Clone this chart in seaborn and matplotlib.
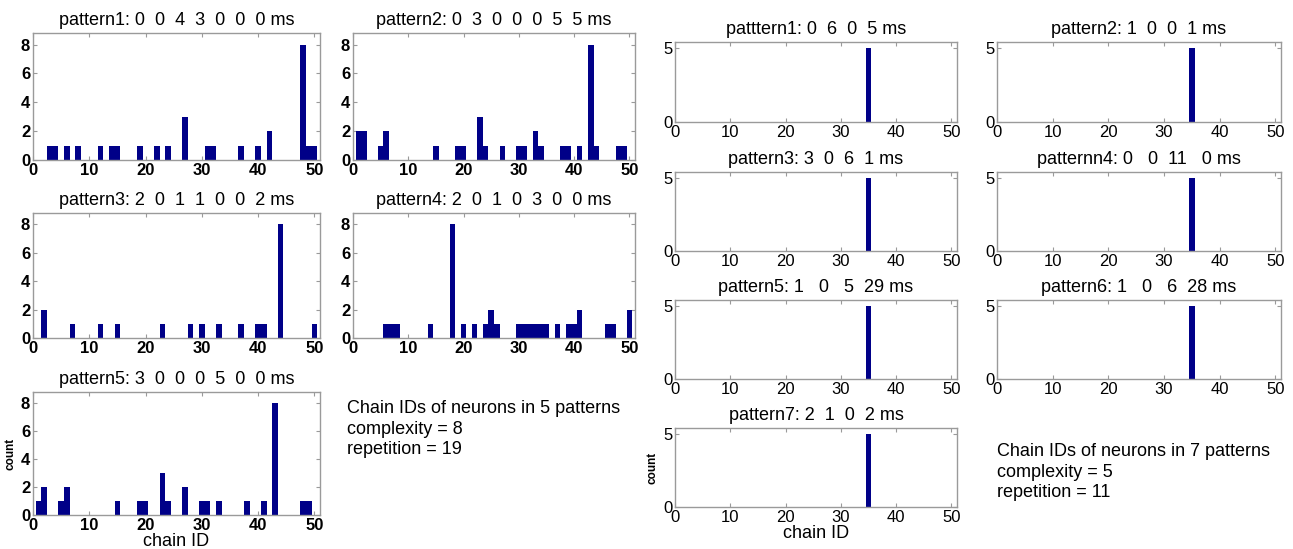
import numpy as np
import pandas as pd
import matplotlib
matplotlib.use("Agg")
import matplotlib.pyplot as plt
import seaborn as sns

# ---------------- data ----------------
left_titles = [
    "pattern1: 0  0  4  3  0  0  0 ms",
    "pattern2: 0  3  0  0  0  5  5 ms",
    "pattern3: 2  0  1  1  0  0  2 ms",
    "pattern4: 2  0  1  0  3  0  0 ms",
    "pattern5: 3  0  0  0  5  0  0 ms",
]
L1_ids = [3, 4, 6, 8, 12, 14, 15, 19, 22, 24, 27, 31, 32, 37, 40, 42, 48, 49, 50]
L1_counts = [1, 1, 1, 1, 1, 1, 1, 1, 1, 1, 3, 1, 1, 1, 1, 2, 8, 1, 1]
L2_ids = [1, 2, 5, 6, 15, 19, 20, 23, 24, 27, 30, 31, 33, 34, 38, 39, 41, 43, 44, 48, 49]
L2_counts = [2, 2, 1, 2, 1, 1, 1, 3, 1, 1, 1, 1, 2, 1, 1, 1, 1, 8, 1, 1, 1]
L3_ids = [2, 7, 12, 15, 23, 28, 30, 33, 37, 40, 41, 44, 50]
L3_counts = [2, 1, 1, 1, 1, 1, 1, 1, 1, 1, 1, 8, 1]
L4_ids = [6, 7, 8, 14, 18, 20, 22, 24, 25, 26, 30, 31, 32, 33, 34, 35, 37, 39, 40, 41, 46, 47, 50]
L4_counts = [1, 1, 1, 1, 8, 1, 1, 1, 2, 1, 1, 1, 1, 1, 1, 1, 1, 1, 1, 2, 1, 1, 2]
L5_ids = [1, 2, 5, 6, 15, 19, 20, 23, 24, 27, 30, 31, 33, 38, 41, 43, 48, 49]
L5_counts = [1, 2, 1, 2, 1, 1, 1, 3, 1, 2, 1, 1, 1, 1, 1, 8, 1, 1]
left_ids = [L1_ids, L2_ids, L3_ids, L4_ids, L5_ids]
left_counts = [L1_counts, L2_counts, L3_counts, L4_counts, L5_counts]

right_titles = [
    "patttern1: 0  6  0  5 ms",
    "pattern2: 1  0  0  1 ms",
    "pattern3: 3  0  6  1 ms",
    "patternn4: 0   0  11   0 ms",
    "pattern5: 1   0   5  29 ms",
    "pattern6: 1   0   6  28 ms",
    "pattern7: 2  1  0  2 ms",
]
right_ids = [35, 35, 35, 35, 35, 35, 35]
right_counts = [5, 5, 5, 5, 5, 5, 5]

left_note = "Chain IDs of neurons in 5 patterns\ncomplexity = 8\nrepetition = 19"
right_note = "Chain IDs of neurons in 7 patterns\ncomplexity = 5\nrepetition = 11"
x_ticks = [0, 10, 20, 30, 40, 50]
left_yticks = [0, 2, 4, 6, 8]
right_yticks = [0, 5]

# ---------------- style ----------------
sns.set_theme(style="white")
plt.rcParams['font.family'] = ['Liberation Sans', 'DejaVu Sans']
plt.rcParams['text.color'] = 'black'
plt.rcParams['axes.labelcolor'] = 'black'
plt.rcParams['xtick.color'] = 'black'
plt.rcParams['ytick.color'] = 'black'

W, H = 1293, 549
fig = plt.figure(figsize=(W / 100, H / 100), dpi=100)
BAR = "#000088"
SPINE = "#9a9a9a"


def make_ax(x0, x1, y0, y1):
    return fig.add_axes([x0 / W, 1 - y1 / H, (x1 - x0) / W, (y1 - y0) / H])


def style(ax, yticks, ylim, bold, size):
    ax.set_xlim(0, 51)
    ax.set_ylim(0, ylim)
    ax.set_xticks(x_ticks)
    ax.set_yticks(yticks)
    for s in ax.spines.values():
        s.set_color(SPINE)
        s.set_linewidth(1.0)
    ax.tick_params(direction="in", length=3, width=0.8, color=SPINE,
                   top=True, right=True, bottom=True, left=True,
                   labelsize=size, pad=2, labelcolor="black")
    for lab in ax.get_xticklabels() + ax.get_yticklabels():
        lab.set_fontweight("bold" if bold else "normal")
    ax.set_xlabel("")
    ax.set_ylabel("")


def draw(ax, ids, counts):
    df = pd.DataFrame({"chain": ids, "count": counts})
    sns.histplot(data=df, x="chain", weights="count", discrete=True, shrink=1,
                 color=BAR, edgecolor=BAR, linewidth=0, alpha=1, ax=ax)


left_boxes = [(33, 320, 33, 160), (353, 635, 33, 160),
              (33, 320, 213, 338), (353, 635, 213, 338),
              (33, 320, 392, 515)]
for i, box in enumerate(left_boxes):
    ax = make_ax(*box)
    draw(ax, left_ids[i], left_counts[i])
    style(ax, left_yticks, 8.8, True, 12)
    ax.set_title(left_titles[i], fontsize=13, pad=6, color="black")
    if i == 4:
        ax.set_xlabel("chain ID", fontsize=13, labelpad=0)
        ax.set_ylabel("count", fontsize=8.5, fontweight="bold", labelpad=3)

right_boxes = [(675, 957, 42, 122), (997, 1281, 42, 122),
               (675, 957, 172, 251), (997, 1281, 172, 251),
               (675, 957, 300, 379), (997, 1281, 300, 379),
               (675, 957, 428, 507)]
for i, box in enumerate(right_boxes):
    ax = make_ax(*box)
    draw(ax, [right_ids[i]], [right_counts[i]])
    style(ax, right_yticks, 5.4, False, 12)
    ax.set_title(right_titles[i], fontsize=13, pad=6, color="black")
    if i == 6:
        ax.set_xlabel("chain ID", fontsize=13, labelpad=0)
        ax.set_ylabel("count", fontsize=8.5, fontweight="bold", labelpad=3)

fig.text(347 / W, 1 - 400 / H, left_note, fontsize=13, va="top", ha="left",
         linespacing=1.28)
fig.text(997 / W, 1 - 443 / H, right_note, fontsize=13, va="top", ha="left",
         linespacing=1.28)

fig.savefig("out.png", dpi=100)
